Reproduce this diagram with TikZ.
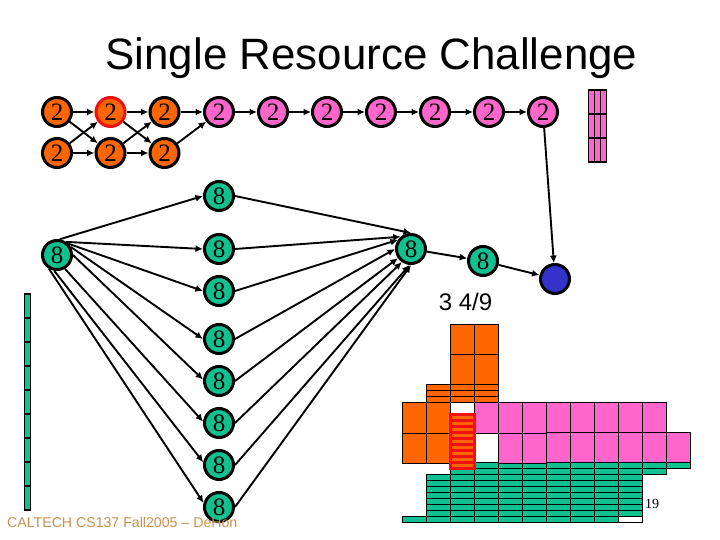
\documentclass[tikz,border=0pt]{standalone}
\usepackage{fontspec}
\setmainfont{Liberation Serif}
\setsansfont{Liberation Sans}
\usetikzlibrary{arrows.meta}
\definecolor{cOrange}{HTML}{FF6600}
\definecolor{cPink}{HTML}{FF66CC}
\definecolor{cGreen}{HTML}{10C090}
\definecolor{cBlue}{HTML}{3333CC}
\definecolor{cRed}{HTML}{F01010}
\definecolor{cFoot}{HTML}{C8904F}
\tikzset{
  vert/.style={circle,draw=black,line width=3pt,minimum size=29pt,inner sep=0pt,font=\fontsize{25}{25}\selectfont},
  vo/.style={vert,fill=cOrange},
  vp/.style={vert,fill=cPink},
  vg/.style={vert,fill=cGreen},
  conn/.style={line width=1.9pt,-{Latex[length=7.5pt,width=7pt]}},
  cellO/.style={fill=cOrange,draw=black,line width=1.2pt},
  cellP/.style={fill=cPink,draw=black,line width=1.2pt},
  cellG/.style={fill=cGreen,draw=black,line width=1.2pt},
  cellW/.style={fill=white,draw=black,line width=1.2pt},
  cellR/.style={fill=cOrange,draw=cRed,line width=2.8pt}
}
\begin{document}
\begin{tikzpicture}[x=1pt,y=-1pt]
\useasboundingbox[fill=white] (0,0) rectangle (720,540);
% title and labels
\node[font=\sffamily\fontsize{43.9}{44}\selectfont,inner sep=0pt] (title) at (371.5,58) {Single Resource Challenge};
\node[font=\sffamily\fontsize{24}{24}\selectfont,inner sep=0pt] (frac) at (465.5,302) {3 4/9};
% pink bar
\foreach \c in {0,1,2}{\foreach \r in {0,1,2}{
  \draw[cellP] (588.5+6*\c,90+24*\r) rectangle (594.5+6*\c,114+24*\r);}}
% green bar
\foreach \r in {0,...,8}{\draw[cellG] (24.5,294+24*\r) rectangle (30.5,318+24*\r);}
% schedule grid: orange
\foreach \x in {450,474}{
  \draw[cellO] (\x.3,324.3) rectangle (\x.3+24,354.3);
  \draw[cellO] (\x.3,354.3) rectangle (\x.3+24,384.3);}
\foreach \x in {426,450,474}{\foreach \r in {0,1,2}{
  \draw[cellO] (\x.3,384.3+6*\r) rectangle (\x.3+24,390.3+6*\r);}}
\foreach \x in {402,426}{
  \draw[cellO] (\x.3,402.3) rectangle (\x.3+24,433.3);
  \draw[cellO] (\x.3,433.3) rectangle (\x.3+24,463.3);}
% green rows
\foreach \x in {450,474,...,642}{\draw[cellG] (\x.3,462.3) rectangle (\x.3+24,468.3);}
\draw[cellG] (666.3,462.3) rectangle (690.3,468.3);
\foreach \x in {450,474,...,642}{\draw[cellG] (\x.3,468.3) rectangle (\x.3+24,474.3);}
\foreach \r in {0,...,6}{\foreach \x in {426,450,...,618}{
  \draw[cellG] (\x.3,474.3+6*\r) rectangle (\x.3+24,480.3+6*\r);}}
\foreach \x in {402,426,...,594}{\draw[cellG] (\x.3,516.3) rectangle (\x.3+24,522.3);}
\draw[cellW] (618.3,516.3) rectangle (642.3,522.3);
% pink rows
\foreach \x in {474,498,...,642}{\draw[cellP] (\x.3,402.3) rectangle (\x.3+24,433.3);}
\foreach \x in {498,522}{\draw[cellP] (\x.3,433.3) rectangle (\x.3+24,463.3);}
\foreach \x in {546,570,...,666}{\draw[cellP] (\x.3,432.3) rectangle (\x.3+24,462.3);}
% red stack
\foreach \r in {0,...,8}{\draw[cellR] (450.6,414.6+6*\r) rectangle (474.4,420.6+6*\r);}
% graph nodes
\foreach \n/\x in {a1/57,a3/164.5}{\node[vo] (\n) at (\x,112) {2};}
\node[vo,draw=cRed] (a2) at (110.5,112) {2};
\foreach \n/\x in {a4/219,a5/273,a6/327,a7/381,a8/435,a9/489,a10/543}{\node[vp] (\n) at (\x,112) {2};}
\foreach \n/\x in {b1/57,b2/110.5,b3/164.5}{\node[vo] (\n) at (\x,153) {2};}
\node[vg] (s) at (57,255) {8};
\foreach \n/\y in {t1/196,t2/249,t3/291,t4/339,t5/381,t6/423,t7/465,t8/507}{\node[vg] (\n) at (219,\y) {8};}
\node[vg] (m) at (411,249) {8};
\node[vg] (n) at (483,261) {8};
\node[vert,fill=cBlue] (sink) at (555,279) {};
% connectors
\foreach \p/\q in {a1/a2,a2/a3,a3/a4,a4/a5,a5/a6,a6/a7,a7/a8,a8/a9,a9/a10,b1/b2,b2/b3,a1/b2,b1/a2,a2/b3,b2/a3,b3/a4,m/n,n/sink,a10/sink}{
  \draw[conn] (\p) -- (\q);}
\draw[conn] (s.80) -- (t1.west);
\draw[conn] (s.55) -- (t2.west);
\draw[conn] (s.45) -- (t3.west);
\draw[conn] (s.30) -- (t4.west);
\draw[conn] (s.east) -- (t5.175);
\draw[conn] (s.300) -- (t6.175);
\draw[conn] (s.260) -- (t7.170);
\draw[conn] (s.240) -- (t8.165);
\draw[conn] (t1.east) -- (m.north);
\draw[conn] (t2.east) -- (m.130);
\draw[conn] (t3.east) -- (m.145);
\draw[conn] (t4.east) -- (m.west);
\draw[conn] (t5.east) -- (m.215);
\draw[conn] (t6.east) -- (m.235);
\draw[conn] (t7.east) -- (m.265);
\draw[conn] (t8.east) -- (m.270);
% footer and page number
\node[font=\sffamily\fontsize{14.15}{15}\selectfont,text=cFoot,inner sep=0pt,anchor=west] (foot) at (7,522) {CALTECH CS137 Fall2005 -- DeHon};
\node[font=\fontsize{14}{14}\selectfont,inner sep=0pt] (page) at (652,504) {19};
\end{tikzpicture}
\end{document}
